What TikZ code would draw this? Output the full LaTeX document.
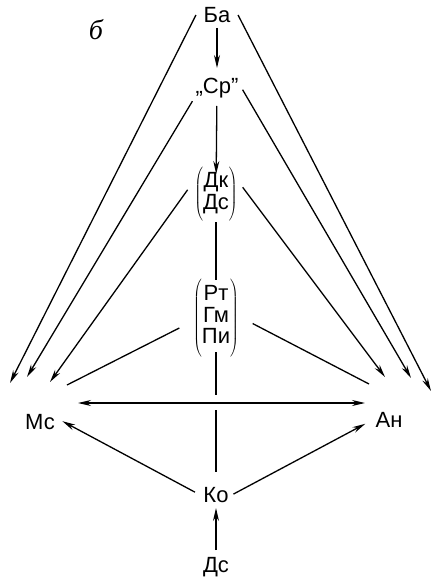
\documentclass[tikz,border=0pt]{standalone}
\usepackage{fontspec}
\setmainfont{Liberation Sans}
\newfontfamily\CyrSerif{Liberation Serif}
\usetikzlibrary{arrows.meta,calc}
\newcommand{\Klammer}[1]{$\delimiterfactor=1000\delimitershortfall=-9pt
  \left(\vcenter{\hbox{\begin{tabular}{@{}c@{}}#1\end{tabular}}}\right)$}

\begin{document}
\begin{tikzpicture}[x=1pt,y=-1pt,
    lbl/.style={inner sep=3pt,font=\fontsize{22}{21}\selectfont},
    arr/.style={-{Stealth[length=13pt,width=6pt]},line width=1.3pt},
    ln/.style={line width=1.3pt}]
  \useasboundingbox[fill=white] (0,0) rectangle (432,583);
  % labels
  \node[font=\CyrSerif\itshape\fontsize{28}{30}\selectfont] (panel) at (96,30) {б};
  \node[lbl,inner xsep=7.5pt] (ba) at (217,15) {Ба};
  \node[lbl] (sr) at (217,88) {„Ср"};
  \node[lbl] (dk) at (216,194) {\Klammer{Дк\\Дс}};
  \node[lbl] (rt) at (216,318) {\Klammer{Рт\\Гм\\Пи}};
  \node[lbl] (ms) at (40,422) {Мс};
  \node[lbl] (an) at (389,420) {Ан};
  \node[lbl] (ko) at (216,495) {Ко};
  \node[lbl] (ds) at (216,567) {Дс};
  % ends above Mc and An
  \coordinate (ms1) at (10,383);
  \coordinate (ms2) at (27,377);
  \coordinate (ms3) at (50,382);
  \coordinate (ms4) at (67,385);
  \coordinate (msH) at (78,403);
  \coordinate (an1) at (431,391);
  \coordinate (an2) at (411,378);
  \coordinate (an3) at (385,377);
  \coordinate (an4) at (369,384);
  \coordinate (anH) at (365,403);
  \coordinate (cross) at ($(msH)!(rt.center)!(anH)$);
  % middle column
  \draw[arr,shorten <=13pt,shorten >=20pt] (ba.center) -- (sr.center);
  \draw[arr,shorten <=18pt,shorten >=20pt] (sr.center) -- (dk.center);
  \draw[ln,shorten <=28pt,shorten >=38pt] (dk.center) -- (rt.center);
  \draw[ln,shorten <=34pt,shorten >=8pt] (rt.center) -- (cross);
  \draw[ln,shorten <=7pt,shorten >=23pt] (cross) -- (ko.center);
  \draw[arr,shorten <=17pt,shorten >=13pt] (ds.center) -- (ko.center);
  % fans to the left
  \draw[arr] (ba.west) -- (ms1);
  \draw[arr] (sr.south west) -- (ms2);
  \draw[arr,shorten <=6pt] (dk.160) -- (ms3);
  \draw[ln,shorten <=12pt] (rt.190) -- (ms4);
  % fans to the right
  \draw[arr] (ba.east) -- (an1);
  \draw[arr,shorten <=2pt] (sr.east) -- (an2);
  \draw[arr,shorten <=3pt] (dk.20) -- (an3);
  \draw[ln,shorten <=12pt] (rt.east) -- (an4);
  % bottom
  \draw[arr,{Stealth[length=13pt,width=6pt]}-{Stealth[length=13pt,width=6pt]}] (msH) -- (anH);
  \draw[arr,shorten <=6pt,shorten >=5pt] (ko.west) -- (ms.10);
  \draw[arr,shorten <=2pt,shorten >=8pt] (ko.east) -- (an.west);
\end{tikzpicture}
\end{document}
